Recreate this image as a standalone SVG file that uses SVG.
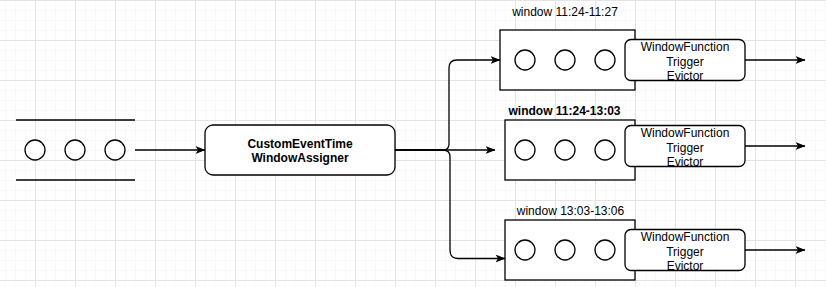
<svg xmlns="http://www.w3.org/2000/svg" width="826" height="287" viewBox="0 0 826 287">
  <style>
    .ln { fill: none; stroke: #000; stroke-width: 1.3; }
    .box { fill: #fff; stroke: #000; stroke-width: 1.3; }
    .dot { fill: #fff; stroke: #000; stroke-width: 1.3; }
    .t { font-family: "Liberation Sans", Arial, sans-serif; font-size: 12px; fill: #000; text-anchor: middle; }
    .b { font-weight: bold; }
    .conn { fill: none; stroke: #000; stroke-width: 1.3; }
  </style>
  <defs>
    <pattern id="minor" width="10" height="10" patternUnits="userSpaceOnUse" x="5" y="0">
      <path d="M0,0 V10 M0,0 H10" fill="none" stroke="#f3f3f3" stroke-width="1"/>
    </pattern>
    <pattern id="major" width="40" height="40" patternUnits="userSpaceOnUse" x="-5" y="0">
      <path d="M0.5,0 V40 M0,0.5 H40" fill="none" stroke="#e4e4e4" stroke-width="1"/>
    </pattern>
    <marker id="arr" markerWidth="10" markerHeight="8" refX="9.5" refY="4" orient="auto" markerUnits="userSpaceOnUse">
      <path d="M0,0 L10,4 L0,8 L2.5,4 Z" fill="#000"/>
    </marker>
  </defs>

  <rect width="826" height="287" fill="#fff"/>
  <rect width="826" height="287" fill="url(#minor)"/>
  <rect width="826" height="287" fill="url(#major)"/>

  <g id="input-queue">
    <path class="ln" d="M16,120 H135 M16,180 H135"/>
    <circle class="dot" cx="35" cy="150" r="10"/>
    <circle class="dot" cx="75" cy="150" r="10"/>
    <circle class="dot" cx="115" cy="150" r="10"/>
  </g>

  <g id="assigner">
    <rect class="box" x="205" y="125" width="190" height="50" rx="8"/>
    <text class="t b" x="300" y="147.5">CustomEventTime</text>
    <text class="t b" x="300" y="162">WindowAssigner</text>
  </g>

  <g id="window1">
    <text class="t" x="565" y="16">window 11:24-11:27</text>
    <rect class="box" x="500" y="30" width="135" height="60"/>
    <circle class="dot" cx="525" cy="60" r="10"/>
    <circle class="dot" cx="565" cy="60" r="10"/>
    <circle class="dot" cx="605" cy="60" r="10"/>
  </g>
  <g id="wf1">
    <rect class="box" x="625" y="39.5" width="120" height="41" rx="6"/>
    <text class="t" x="685" y="51">WindowFunction</text>
    <text class="t" x="685" y="65.5">Trigger</text>
    <text class="t" x="685" y="80">Evictor</text>
  </g>

  <g id="window2">
    <text class="t b" x="564.5" y="115">window 11:24-13:03</text>
    <rect class="box" x="505" y="120" width="130" height="60"/>
    <circle class="dot" cx="525" cy="150" r="10"/>
    <circle class="dot" cx="565" cy="150" r="10"/>
    <circle class="dot" cx="605" cy="150" r="10"/>
  </g>
  <g id="wf2">
    <rect class="box" x="625" y="125.5" width="120" height="41" rx="6"/>
    <text class="t" x="685" y="137">WindowFunction</text>
    <text class="t" x="685" y="151.5">Trigger</text>
    <text class="t" x="685" y="166">Evictor</text>
  </g>

  <g id="window3">
    <text class="t" x="570.5" y="215">window 13:03-13:06</text>
    <rect class="box" x="505" y="220" width="130" height="60"/>
    <circle class="dot" cx="525" cy="250" r="10"/>
    <circle class="dot" cx="565" cy="250" r="10"/>
    <circle class="dot" cx="605" cy="250" r="10"/>
  </g>
  <g id="wf3">
    <rect class="box" x="625" y="229.5" width="120" height="41" rx="6"/>
    <text class="t" x="685" y="241">WindowFunction</text>
    <text class="t" x="685" y="255.5">Trigger</text>
    <text class="t" x="685" y="270">Evictor</text>
  </g>

  <g id="connectors">
    <path class="conn" d="M135,150 H205" marker-end="url(#arr)"/>
    <path class="conn" d="M395,150 H495" marker-end="url(#arr)"/>
    <path class="conn" d="M395,150 H443 Q449,150 449,144 V68 Q449,60 457,60 H500" marker-end="url(#arr)"/>
    <path class="conn" d="M395,150 H443 Q450,150 450,157 V250 Q450,258.5 458,258.5 H505" marker-end="url(#arr)"/>
    <path class="conn" d="M745,60 H805" marker-end="url(#arr)"/>
    <path class="conn" d="M745,146 H805" marker-end="url(#arr)"/>
    <path class="conn" d="M745,250 H805" marker-end="url(#arr)"/>
  </g>
</svg>
